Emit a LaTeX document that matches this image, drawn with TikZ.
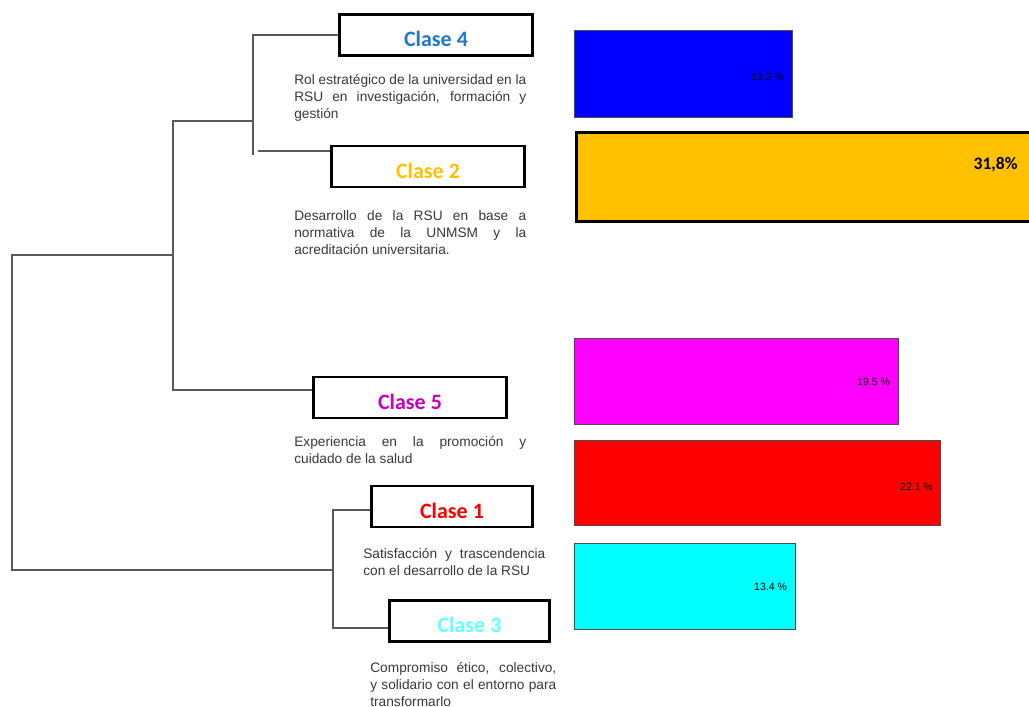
\documentclass[tikz,border=0pt]{standalone}
\usepackage{fontspec}
\setmainfont{Liberation Sans}
\newfontfamily\calibri{Carlito}
\usepackage{tikz}
\usepackage{xcolor}
\colorlet{linecol}{black!65}
\colorlet{desccol}{black!78}
\colorlet{barline}{black!70}
\definecolor{c4col}{HTML}{1F78C8}
\definecolor{c2col}{HTML}{FFC000}
\definecolor{c5col}{HTML}{C800C0}
\definecolor{c1col}{HTML}{FF0000}
\definecolor{c3col}{HTML}{66FFFF}
\definecolor{barblue}{HTML}{0000FF}
\definecolor{barorange}{HTML}{FFC000}
\definecolor{barmagenta}{HTML}{FF00FF}
\definecolor{barred}{HTML}{FF0000}
\definecolor{barcyan}{HTML}{00FFFF}
\tikzstyle{clase box}=[draw=black,line width=1.6pt,minimum height=0.82cm,inner sep=0pt,text height=0.47cm,text depth=0pt,font=\calibri\bfseries\fontsize{12.5}{14}\selectfont]
\tikzstyle{desc}=[anchor=north west,inner sep=0pt,align=justify,text=desccol,font=\fontsize{7.8}{9.6}\selectfont]
\tikzstyle{bar}=[draw=barline,line width=0.8pt,inner sep=0pt,anchor=north west]
\tikzstyle{pct}=[anchor=east,inner sep=0pt,font=\fontsize{6}{7}\selectfont]
\tikzstyle{tree}=[draw=linecol,line width=1.1pt]

\begin{document}
\begin{tikzpicture}[x=0.02cm,y=-0.02cm]
    \useasboundingbox (0,0) rectangle (1029,707);

    % clases
    \node[clase box,minimum width=3.86cm,text=c4col] (c4) at (436,35) {Clase 4};
    \node[clase box,minimum width=3.86cm,text=c2col] (c2) at (428,166.5) {Clase 2};
    \node[clase box,minimum width=3.86cm,text=c5col] (c5) at (410,397.5) {Clase 5};
    \node[clase box,minimum width=3.22cm,text=c1col] (c1) at (452,506.5) {Clase 1};
    \node[clase box,minimum width=3.2cm,text=c3col] (c3) at (469.5,621) {Clase 3};

    \node[desc,text width=4.64cm] (d4) at (294,74) {Rol estratégico de la universidad en la\linebreak RSU en investigación, formación y\linebreak gestión};
    \node[desc,text width=4.64cm] (d2) at (294,210) {Desarrollo de la RSU en base a\linebreak normativa de la UNMSM y la\linebreak acreditación universitaria.};
    \node[desc,text width=4.64cm] (d5) at (294,436) {Experiencia en la promoción y\linebreak cuidado de la salud};
    \node[desc,text width=3.64cm] (d1) at (363,548) {Satisfacción y trascendencia\linebreak con el desarrollo de la RSU};
    \node[desc,text width=3.72cm] (d3) at (370,662) {Compromiso ético, colectivo,\linebreak y solidario con el entorno para\linebreak transformarlo};

    % dendrograma
    \coordinate (v42) at (253,155);
    \coordinate (s2) at (258,151);
    \coordinate (j42) at (253,121);
    \coordinate (j5) at (173,121);
    \coordinate (h5) at (173,390);
    \coordinate (r1) at (173,255);
    \coordinate (rt) at (12,255);
    \coordinate (rb) at (12,570);
    \coordinate (r2) at (333,570);
    \coordinate (l1) at (333,510);
    \coordinate (l3) at (333,628);
    \draw[tree] (c4.west) -| (v42);
    \draw[tree] (s2) -- (s2 -| c2.west);
    \draw[tree] (j42) -- (j5) -- (h5) -- (h5 -| c5.west);
    \draw[tree] (r1) -- (rt) -- (rb) -- (r2);
    \draw[tree] (c1.west |- l1) -- (l1) -- (l3) -- (l3 -| c3.west);

    % barras
    \node[bar,fill=barblue,minimum width=4.36cm,minimum height=1.74cm] (b4) at (574,30) {};
    \node[bar,fill=barorange,draw=black,line width=1.5pt,minimum width=9.3cm,minimum height=1.78cm] (b2) at (575,131) {};
    \node[bar,fill=barmagenta,minimum width=6.48cm,minimum height=1.72cm] (b5) at (574,338) {};
    \node[bar,fill=barred,minimum width=7.32cm,minimum height=1.70cm] (b1) at (574,440) {};
    \node[bar,fill=barcyan,minimum width=4.42cm,minimum height=1.72cm] (b3) at (574,543) {};

    \node[pct] (p4) at ([xshift=-0.18cm,yshift=-0.05cm]b4.east) {13.2 \%};
    \coordinate (q2) at (1018,165);
    \node[pct,font=\calibri\bfseries\fontsize{10}{12}\selectfont] (p2) at (q2) {31,8\%};
    \node[pct] (p5) at ([xshift=-0.18cm]b5.east) {19.5 \%};
    \node[pct] (p1) at ([xshift=-0.16cm,yshift=-0.07cm]b1.east) {22.1 \%};
    \node[pct] (p3) at ([xshift=-0.18cm]b3.east) {13.4 \%};
\end{tikzpicture}
\end{document}
